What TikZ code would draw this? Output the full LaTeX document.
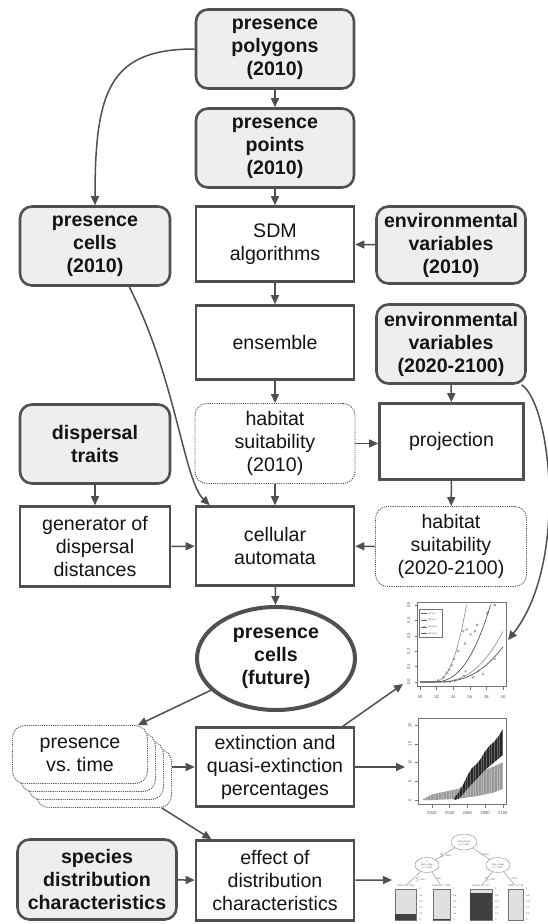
\documentclass[tikz,border=0pt]{standalone}
\usepackage{fontspec}
\setmainfont{Liberation Sans}
\usetikzlibrary{arrows.meta,shapes.geometric}

\definecolor{edge}{HTML}{505050}
\definecolor{panel}{HTML}{EEEEEE}
\definecolor{ink}{HTML}{141414}
\newcommand{\boxfont}{\fontsize{19.6}{23}\selectfont}

\tikzset{box/.style={main, draw=edge, line width=2.6pt, fill=white}}
\tikzset{gbox/.style={box, fill=panel, rounded corners=12pt, font=\boxfont\bfseries}}
\tikzset{dbox/.style={main, draw=edge, line width=0.9pt, dash pattern=on 1.1pt off 1.1pt, rounded corners=12pt, fill=white}}
\tikzset{arr/.style={draw=edge, line width=1.5pt, -{Triangle[length=9pt,width=8pt]}}}
\tikzset{frame/.style={draw=black!55, line width=0.4pt}}
\tikzset{tick/.style={font=\fontsize{4.2}{5}\selectfont, text=black!65, inner sep=0pt}}
\tikzset{wee/.style={font=\fontsize{2.4}{2.8}\selectfont, text=black!65, inner sep=0pt, align=center}}

\begin{document}
\begin{tikzpicture}[x=1pt, y=-1pt, main/.style={rectangle, align=center, inner sep=0pt, text=ink, font=\boxfont}]
\path[use as bounding box, fill=white] (0,0) rectangle (548,924);

% model chain
\node[gbox, minimum width=158pt, minimum height=79pt] (0) at (275,49) {presence\\polygons\\(2010)};
\node[gbox, minimum width=158pt, minimum height=79pt] (1) at (275,148) {presence\\points\\(2010)};
\node[box, minimum width=158pt, minimum height=75pt] (2) at (275,244) {SDM\\algorithms};
\node[gbox, minimum width=149pt, minimum height=77pt] (3) at (451,245) {environmental\\variables\\(2010)};
\node[gbox, minimum width=150pt, minimum height=79pt] (4) at (95,246) {presence\\cells\\(2010)};
\node[box, minimum width=158pt, minimum height=74pt] (5) at (275,342.5) {ensemble};
\node[gbox, minimum width=149pt, minimum height=79pt] (6) at (451,344) {environmental\\variables\\(2020-2100)};
\node[dbox, minimum width=160pt, minimum height=80pt] (7) at (275,443.5) {habitat\\suitability\\(2010)};
\node[box, minimum width=144pt, minimum height=76pt] (8) at (451.5,441.5) {projection};
\node[gbox, minimum width=150pt, minimum height=79pt] (9) at (95,444) {dispersal\\traits};
\node[box, minimum width=150pt, minimum height=80pt] (10) at (95,546.5) {generator of\\dispersal\\distances};
\node[box, minimum width=158pt, minimum height=79pt] (11) at (275,546) {cellular\\automata};
\node[dbox, minimum width=151pt, minimum height=80pt] (12) at (451,546.5) {habitat\\suitability\\(2020-2100)};
\node[box, ellipse, line width=4pt, font=\boxfont\bfseries, minimum width=158pt, minimum height=103pt] (13) at (276,658.5) {presence\\cells\\(future)};

% stacked outputs
\foreach \k in {3,2,1}
  \node[dbox, minimum width=135pt, minimum height=58pt] (t\k) at ({80+8*\k},{754.5+8*\k}) {};
\node[dbox, minimum width=135pt, minimum height=58pt] (14) at (80,754.5) {presence\\vs.\ time};
\node[box, minimum width=158pt, minimum height=79pt] (15) at (275,767) {extinction and\\quasi-extinction\\percentages};
\node[gbox, minimum width=159pt, minimum height=80pt] (16) at (97,879.5) {species\\distribution\\characteristics};
\node[box, minimum width=158pt, minimum height=80pt] (17) at (275,880.5) {effect of\\distribution\\characteristics};

\coordinate (p0) at (508,640);
\coordinate (p1) at (403,684);
\coordinate (p2) at (405,767);
\coordinate (p3) at (392,880);

% extinction vs. temperature
\draw[frame] (417,602) rectangle (506,686);
\begin{scope}[shift={(420,682)}, x=8.3pt, y=154pt]
  \foreach \k in {0,...,5} {
    \draw[frame] (2*\k,-0.026) -- (2*\k,-0.05);
    \node[tick] (a\k) at (2*\k,-0.095) {\the\numexpr30+2*\k\relax};
    \draw[frame] (-0.36,\k/10) -- (-0.66,\k/10);
    \node[tick, rotate=90] (yl\k) at (-1.35,\k/10) {0.\k};
  }
  \draw[line width=0.6pt, black!45] (0,0) -- plot[domain=1.5:5.6, samples=30] (\x,{0.0147*(\x-1.5)*(\x-1.5)*sqrt(\x-1.5)});
  \draw[line width=0.6pt, black!75] (0,0) -- plot[domain=1.5:8.5, samples=30] (\x,{0.00386*(\x-1.5)*(\x-1.5)*sqrt(\x-1.5)});
  \draw[line width=0.6pt, black!45] (0,0) -- plot[domain=2:10, samples=30] (\x,{0.00182*(\x-2)*(\x-2)*sqrt(\x-2)});
  \draw[line width=0.6pt, black!75] (0,0) -- plot[domain=2:10, samples=30] (\x,{0.00127*(\x-2)*(\x-2)*sqrt(\x-2)});
  \foreach \u/\w in {2.2/0.01,2.8/0.03,3.2/0.06,3.5/0.08,3.8/0.11,4.1/0.15,4.6/0.2,5.2/0.33,5.4/0.25,5.6/0.34,6.1/0.31,6.6/0.33,6.9/0.37,8.1/0.45,9/0.5,
                     3/0.0,3.6/0.0,4.2/0.01,4.8/0.02,5.3/0.04,5.5/0.07,6.4/0.03,7/0.07,7.6/0.05,9/0.15}
    \draw[black!55, line width=0.3pt] (\u,\w) circle[radius=1.1pt];
  \draw[frame] (-0.1,0.47) rectangle (2.7,0.29);
  \foreach \k/\lbl in {0/A2-ext,1/B2-ext,2/A2-cext,3/B2-cext} {
    \draw[black!60, line width=0.4pt] (0.15,0.445-0.043*\k) -- (0.85,0.445-0.043*\k);
    \fill[black!60] (0.5,0.445-0.043*\k) circle[radius=0.7pt];
    \node[wee, anchor=west] (l\k) at (1.0,0.445-0.043*\k) {\lbl};
  }
\end{scope}

% extinction over time
\draw[frame] (418,718) rectangle (506,804);
\begin{scope}[shift={(423,800)}, x=0.8875pt, y=3.75pt]
  \foreach \k in {1,...,5} {
    \draw[frame] (20*\k-10,-1.07) -- (20*\k-10,-2);
    \node[tick] (c\k) at (20*\k-10,-3.5) {\the\numexpr2000+20*\k\relax};
  }
  \foreach \k in {0,...,4} {
    \draw[frame] (-5.6,5*\k) -- (-8.5,5*\k);
    \node[tick, rotate=90] (d\k) at (-14.6,5*\k) {\the\numexpr5*\k\relax};
  }
  \fill[black!40] (0,0.2) -- (10,1.5) -- (20,2) -- (30,2.5) -- (40,3) -- (50,4.5) -- (60,6.5) -- (70,8) -- (80,9) -- (90,10)
    -- (90,3) -- (80,2) -- (70,1.5) -- (60,1) -- (50,0.7) -- (40,0.3) -- (30,0.2) -- (20,0.1) -- (10,0) -- (0,0) -- cycle;
  \fill[black!85] (35,0.5) -- (40,2) -- (45,4) -- (50,6.5) -- (55,8.5) -- (60,9.5) -- (65,11) -- (70,13) -- (75,14.5) -- (80,15.5) -- (85,17) -- (90,19)
    -- (90,12) -- (80,10) -- (70,8) -- (60,5.5) -- (50,3) -- (45,1.5) -- (40,0.3) -- (35,0) -- cycle;
  \foreach \t in {2,5,...,89}
    \draw[white, line width=0.25pt, opacity=0.3] (\t,0) -- (\t,20);
\end{scope}

% regression tree
\node[wee, draw=black!55, ellipse, line width=0.3pt, minimum width=26pt, minimum height=16pt] (r0) at (464,842) {1\\time\_thresh\\p < 0.001};
\node[wee, draw=black!55, ellipse, line width=0.3pt, minimum width=24pt, minimum height=15pt] (r1) at (427,865) {2\\time\_range\\p = 0.026};
\node[wee, draw=black!55, ellipse, line width=0.3pt, minimum width=24pt, minimum height=15pt] (r2) at (498,865) {5\\time\_range\\p = 0.007};
\foreach \c/\w/\lbl [count=\i] in {405.5/21/Node 3 (n = 29),441.5/17/Node 4 (n = 133),481/22/Node 6 (n = 17),515.5/15/Node 7 (n = 8)} {
  \node[draw=black!55, fill=black!12, line width=0.3pt, minimum width=\w pt, minimum height=31pt, inner sep=0pt] (bar\i) at (\c,904.5) {};
  \node[wee] (h\i) at (\c,886) {\lbl};
  \foreach \k in {0,...,5}
    \node[wee, anchor=west] (v\i\k) at ({\c+\w/2+3},920-6.2*\k) {\ifnum\k=0 0\else\ifnum\k=5 1\else 0.\the\numexpr2*\k\relax\fi\fi};
}
\fill[black!75] (395,914) rectangle (416,920);
\fill[black!75] (433,918.8) rectangle (450,920);
\fill[black!75] (470,892.5) rectangle (492,920);
\draw[black!55, line width=0.3pt] (r0) -- (r1);
\draw[black!55, line width=0.3pt] (r0) -- (r2);
\foreach \i/\r in {1/r1,2/r1,3/r2,4/r2}
  \draw[black!55, line width=0.3pt] (\r) -- (h\i);
\node[wee] (e1) at (445,855) {$\leq$ 1960};
\node[wee] (e2) at (485,855) {> 1960};
\node[wee] (e3) at (420,879) {$\leq$ 620};
\node[wee] (e4) at (438,879) {> 620};
\node[wee] (e5) at (490,879) {$\leq$ 1307};
\node[wee] (e6) at (514,879) {> 1307};

% connectors
\draw[arr] (0) -- (1);
\draw[arr] (0.west) .. controls +(-85,0) and +(0,-115) .. (4.north);
\draw[arr] (1) -- (2);
\draw[arr] (3) -- (2);
\draw[arr] (2) -- (5);
\draw[arr] (5) -- (7);
\draw[arr] (7.east) -- (7.east -| 8.west);
\draw[arr] (6) -- (8);
\draw[arr] (8) -- (12);
\draw[arr] (12) -- (11);
\draw[arr] (7) -- (11);
\draw[arr] (9) -- (10);
\draw[arr] (10) -- (11);
\draw[arr] (4.-50) .. controls +(47,93) and +(-26,-25) .. (11.148);
\draw[arr] (11) -- (13);
\draw[arr] (13.206) -- (14.27);
\draw[arr] (t3.east |- 15.west) -- (15.west);
\draw[arr] (t3.-27) -- (17.147);
\draw[arr] (15.31) -- (p1);
\draw[arr] (15) -- (p2);
\draw[arr] (16) -- (17);
\draw[arr] (17) -- (p3);
\draw[arr] (6.-30) .. controls +(30,20) and +(60,-75) .. (p0);
\end{tikzpicture}
\end{document}
